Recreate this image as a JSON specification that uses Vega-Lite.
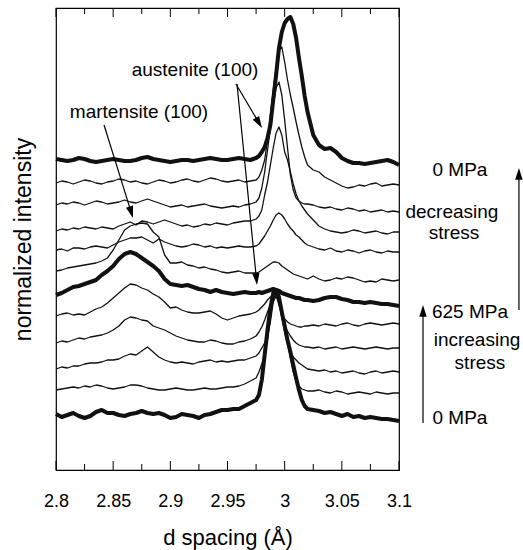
{
  "$schema": "https://vega.github.io/schema/vega-lite/v6.json",
  "width": 343,
  "height": 462,
  "autosize": {"type": "none"},
  "padding": {"left": 56, "top": 8, "right": 124, "bottom": 80},
  "background": "white",
  "config": {"view": {"stroke": "black", "strokeWidth": 1.2}, "font": "Liberation Sans"},
  "datasets": {
    "spectra": [
      {"d":2.8,"t1":86,"t2":110,"t3":131,"t4":157,"t5":184,"t6":205,"t7":229,"t8":250,"t9":269,"t10":295,"t11":317,"t12":341},
      {"d":2.805,"t1":83,"t2":111,"t3":133,"t4":159,"t5":186,"t6":207,"t7":230,"t8":251,"t9":271,"t10":297,"t11":319,"t12":340},
      {"d":2.81,"t1":85,"t2":112,"t3":132,"t4":158,"t5":187,"t6":210,"t7":232,"t8":249,"t9":270,"t10":296,"t11":318,"t12":339},
      {"d":2.815,"t1":87,"t2":113,"t3":134,"t4":160,"t5":185,"t6":213,"t7":233,"t8":252,"t9":272,"t10":298,"t11":316,"t12":340},
      {"d":2.82,"t1":84,"t2":112,"t3":134,"t4":162,"t5":186,"t6":214,"t7":234,"t8":252,"t9":271,"t10":297,"t11":318,"t12":342},
      {"d":2.825,"t1":82,"t2":114,"t3":136,"t4":161,"t5":185,"t6":216,"t7":235,"t8":251,"t9":273,"t10":295,"t11":320,"t12":341},
      {"d":2.83,"t1":84,"t2":113,"t3":137,"t4":163,"t5":188,"t6":218,"t7":236,"t8":253,"t9":272,"t10":297,"t11":319,"t12":339},
      {"d":2.835,"t1":88,"t2":115,"t3":137,"t4":164,"t5":191,"t6":220,"t7":237,"t8":254,"t9":271,"t10":299,"t11":317,"t12":338},
      {"d":2.84,"t1":90,"t2":114,"t3":138,"t4":165,"t5":193,"t6":225,"t7":239,"t8":253,"t9":273,"t10":298,"t11":316,"t12":339},
      {"d":2.845,"t1":87,"t2":112,"t3":140,"t4":167,"t5":197,"t6":229,"t7":242,"t8":252,"t9":272,"t10":296,"t11":318,"t12":340},
      {"d":2.85,"t1":87,"t2":111,"t3":140,"t4":170,"t5":202,"t6":234,"t7":250,"t8":255,"t9":271,"t10":297,"t11":319,"t12":341},
      {"d":2.855,"t1":85,"t2":112,"t3":141,"t4":174,"t5":207,"t6":241,"t7":260,"t8":258,"t9":274,"t10":298,"t11":321,"t12":340},
      {"d":2.86,"t1":84,"t2":113,"t3":144,"t4":180,"t5":212,"t6":246,"t7":270,"t8":260,"t9":276,"t10":300,"t11":320,"t12":339},
      {"d":2.865,"t1":86,"t2":115,"t3":146,"t4":183,"t5":216,"t6":248,"t7":274,"t8":262,"t9":278,"t10":298,"t11":318,"t12":339},
      {"d":2.87,"t1":87,"t2":115,"t3":145,"t4":182,"t5":215,"t6":246,"t7":276,"t8":262,"t9":275,"t10":297,"t11":319,"t12":340},
      {"d":2.875,"t1":89,"t2":114,"t3":149,"t4":180,"t5":212,"t6":242,"t7":277,"t8":263,"t9":279,"t10":299,"t11":317,"t12":342},
      {"d":2.88,"t1":87,"t2":112,"t3":153,"t4":179,"t5":210,"t6":238,"t7":276,"t8":260,"t9":278,"t10":301,"t11":316,"t12":343},
      {"d":2.885,"t1":86,"t2":111,"t3":148,"t4":174,"t5":206,"t6":234,"t7":268,"t8":257,"t9":276,"t10":299,"t11":318,"t12":341},
      {"d":2.89,"t1":87,"t2":110,"t3":143,"t4":172,"t5":203,"t6":229,"t7":263,"t8":261,"t9":278,"t10":297,"t11":320,"t12":340},
      {"d":2.895,"t1":85,"t2":110,"t3":140,"t4":170,"t5":198,"t6":221,"t7":245,"t8":258,"t9":280,"t10":295,"t11":319,"t12":339},
      {"d":2.9,"t1":82,"t2":111,"t3":138,"t4":167,"t5":192,"t6":216,"t7":237,"t8":256,"t9":278,"t10":293,"t11":317,"t12":338},
      {"d":2.905,"t1":83,"t2":112,"t3":137,"t4":164,"t5":193,"t6":215,"t7":237,"t8":254,"t9":276,"t10":294,"t11":318,"t12":339},
      {"d":2.91,"t1":86,"t2":111,"t3":138,"t4":162,"t5":190,"t6":214,"t7":238,"t8":253,"t9":274,"t10":295,"t11":320,"t12":340},
      {"d":2.915,"t1":85,"t2":110,"t3":137,"t4":160,"t5":188,"t6":215,"t7":235,"t8":254,"t9":275,"t10":293,"t11":321,"t12":340},
      {"d":2.92,"t1":84,"t2":110,"t3":136,"t4":159,"t5":187,"t6":213,"t7":234,"t8":256,"t9":273,"t10":294,"t11":319,"t12":339},
      {"d":2.925,"t1":82,"t2":111,"t3":138,"t4":158,"t5":187,"t6":211,"t7":232,"t8":255,"t9":274,"t10":295,"t11":318,"t12":340},
      {"d":2.93,"t1":85,"t2":112,"t3":139,"t4":158,"t5":188,"t6":210,"t7":233,"t8":253,"t9":276,"t10":296,"t11":320,"t12":341},
      {"d":2.935,"t1":86,"t2":111,"t3":140,"t4":160,"t5":189,"t6":208,"t7":231,"t8":254,"t9":275,"t10":294,"t11":322,"t12":342},
      {"d":2.94,"t1":88,"t2":111,"t3":138,"t4":159,"t5":186,"t6":210,"t7":230,"t8":252,"t9":277,"t10":293,"t11":321,"t12":341},
      {"d":2.945,"t1":90,"t2":112,"t3":139,"t4":157,"t5":182,"t6":208,"t7":228,"t8":253,"t9":276,"t10":292,"t11":319,"t12":340},
      {"d":2.95,"t1":90,"t2":113,"t3":138,"t4":156,"t5":180,"t6":207,"t7":227,"t8":252,"t9":275,"t10":293,"t11":318,"t12":340},
      {"d":2.955,"t1":91,"t2":113,"t3":139,"t4":156,"t5":182,"t6":206,"t7":228,"t8":253,"t9":277,"t10":294,"t11":319,"t12":341},
      {"d":2.96,"t1":91,"t2":114,"t3":140,"t4":158,"t5":184,"t6":207,"t7":229,"t8":254,"t9":278,"t10":293,"t11":320,"t12":342},
      {"d":2.965,"t1":94,"t2":116,"t3":140,"t4":159,"t5":185,"t6":208,"t7":227,"t8":253,"t9":279,"t10":295,"t11":318,"t12":341},
      {"d":2.97,"t1":97,"t2":119,"t3":142,"t4":161,"t5":186,"t6":207,"t7":227,"t8":253,"t9":279,"t10":296,"t11":319,"t12":340},
      {"d":2.975,"t1":100,"t2":122,"t3":144,"t4":164,"t5":188,"t6":207,"t7":227,"t8":254,"t9":281,"t10":298,"t11":320,"t12":342},
      {"d":2.9775,"t1":105,"t2":128,"t3":147,"t4":168,"t5":190,"t6":208,"t7":228,"t8":256,"t9":284,"t10":302,"t11":323,"t12":344},
      {"d":2.98,"t1":120,"t2":136,"t3":152,"t4":173,"t5":193,"t6":207,"t7":230,"t8":260,"t9":290,"t10":312,"t11":330,"t12":348},
      {"d":2.9825,"t1":145,"t2":145,"t3":157,"t4":180,"t5":196,"t6":208,"t7":232,"t8":264,"t9":305,"t10":328,"t11":340,"t12":353},
      {"d":2.985,"t1":170,"t2":160,"t3":164,"t4":188,"t5":200,"t6":209,"t7":234,"t8":269,"t9":318,"t10":350,"t11":360,"t12":362},
      {"d":2.9875,"t1":192,"t2":182,"t3":178,"t4":195,"t5":203,"t6":210,"t7":236,"t8":274,"t9":335,"t10":372,"t11":385,"t12":375},
      {"d":2.99,"t1":207,"t2":200,"t3":198,"t4":202,"t5":205,"t6":211,"t7":238,"t8":280,"t9":352,"t10":395,"t11":410,"t12":400},
      {"d":2.9925,"t1":210,"t2":206,"t3":204,"t4":204,"t5":205,"t6":210,"t7":238,"t8":285,"t9":367,"t10":412,"t11":432,"t12":425},
      {"d":2.995,"t1":203,"t2":202,"t3":200,"t4":198,"t5":195,"t6":209,"t7":237,"t8":287,"t9":373,"t10":418,"t11":450,"t12":452},
      {"d":2.9975,"t1":188,"t2":188,"t3":184,"t4":182,"t5":186,"t6":207,"t7":234,"t8":285,"t9":365,"t10":405,"t11":453,"t12":468},
      {"d":3.0,"t1":174,"t2":174,"t3":168,"t4":174,"t5":181,"t6":206,"t7":232,"t8":281,"t9":348,"t10":380,"t11":438,"t12":477},
      {"d":3.0025,"t1":160,"t2":158,"t3":156,"t4":169,"t5":178,"t6":205,"t7":230,"t8":276,"t9":340,"t10":352,"t11":420,"t12":481},
      {"d":3.005,"t1":148,"t2":142,"t3":147,"t4":164,"t5":176,"t6":204,"t7":228,"t8":272,"t9":328,"t10":325,"t11":405,"t12":483},
      {"d":3.0075,"t1":135,"t2":128,"t3":143,"t4":160,"t5":175,"t6":203,"t7":226,"t8":269,"t9":316,"t10":310,"t11":392,"t12":476},
      {"d":3.01,"t1":122,"t2":119,"t3":140,"t4":157,"t5":174,"t6":202,"t7":225,"t8":265,"t9":306,"t10":302,"t11":378,"t12":462},
      {"d":3.0125,"t1":110,"t2":114,"t3":137,"t4":155,"t5":173,"t6":202,"t7":224,"t8":263,"t9":299,"t10":299,"t11":365,"t12":442},
      {"d":3.015,"t1":100,"t2":111,"t3":135,"t4":154,"t5":173,"t6":201,"t7":223,"t8":260,"t9":294,"t10":297,"t11":353,"t12":424},
      {"d":3.0175,"t1":94,"t2":110,"t3":133,"t4":153,"t5":174,"t6":200,"t7":222,"t8":257,"t9":290,"t10":296,"t11":343,"t12":404},
      {"d":3.02,"t1":91,"t2":109,"t3":131,"t4":153,"t5":174,"t6":200,"t7":221,"t8":255,"t9":286,"t10":296,"t11":335,"t12":388},
      {"d":3.025,"t1":90,"t2":109,"t3":130,"t4":152,"t5":175,"t6":199,"t7":224,"t8":253,"t9":280,"t10":295,"t11":330,"t12":365},
      {"d":3.03,"t1":89,"t2":110,"t3":129,"t4":153,"t5":174,"t6":200,"t7":221,"t8":251,"t9":274,"t10":293,"t11":328,"t12":355},
      {"d":3.035,"t1":87,"t2":108,"t3":130,"t4":151,"t5":176,"t6":202,"t7":219,"t8":250,"t9":271,"t10":292,"t11":323,"t12":351},
      {"d":3.04,"t1":88,"t2":107,"t3":128,"t4":152,"t5":175,"t6":203,"t7":220,"t8":252,"t9":269,"t10":293,"t11":320,"t12":352},
      {"d":3.045,"t1":86,"t2":109,"t3":129,"t4":153,"t5":174,"t6":203,"t7":222,"t8":249,"t9":268,"t10":291,"t11":317,"t12":348},
      {"d":3.05,"t1":84,"t2":108,"t3":127,"t4":151,"t5":176,"t6":201,"t7":221,"t8":248,"t9":267,"t10":290,"t11":314,"t12":342},
      {"d":3.055,"t1":86,"t2":106,"t3":128,"t4":152,"t5":177,"t6":200,"t7":223,"t8":250,"t9":268,"t10":292,"t11":312,"t12":339},
      {"d":3.06,"t1":83,"t2":107,"t3":129,"t4":153,"t5":175,"t6":198,"t7":222,"t8":249,"t9":270,"t10":291,"t11":313,"t12":337},
      {"d":3.065,"t1":84,"t2":108,"t3":127,"t4":152,"t5":174,"t6":198,"t7":220,"t8":247,"t9":269,"t10":289,"t11":315,"t12":337},
      {"d":3.07,"t1":82,"t2":107,"t3":126,"t4":151,"t5":176,"t6":197,"t7":218,"t8":249,"t9":267,"t10":290,"t11":314,"t12":336},
      {"d":3.075,"t1":83,"t2":106,"t3":128,"t4":152,"t5":177,"t6":198,"t7":219,"t8":250,"t9":268,"t10":288,"t11":316,"t12":337},
      {"d":3.08,"t1":82,"t2":108,"t3":129,"t4":153,"t5":176,"t6":197,"t7":218,"t8":248,"t9":269,"t10":289,"t11":317,"t12":338},
      {"d":3.085,"t1":81,"t2":107,"t3":127,"t4":152,"t5":175,"t6":196,"t7":221,"t8":247,"t9":267,"t10":290,"t11":314,"t12":339},
      {"d":3.09,"t1":81,"t2":106,"t3":128,"t4":151,"t5":176,"t6":196,"t7":220,"t8":249,"t9":266,"t10":288,"t11":315,"t12":340},
      {"d":3.095,"t1":80,"t2":107,"t3":129,"t4":152,"t5":177,"t6":195,"t7":219,"t8":248,"t9":268,"t10":289,"t11":316,"t12":338},
      {"d":3.1,"t1":79,"t2":107,"t3":128,"t4":152,"t5":176,"t6":194,"t7":220,"t8":248,"t9":268,"t10":288,"t11":315,"t12":335}
    ],
    "ticks": [
      {"d":2.8,"kind":"major"},{"d":2.85,"kind":"major"},{"d":2.9,"kind":"major"},{"d":2.95,"kind":"major"},
      {"d":3.0,"kind":"major"},{"d":3.05,"kind":"major"},{"d":3.1,"kind":"major"},
      {"d":2.825,"kind":"minor"},{"d":2.875,"kind":"minor"},{"d":2.925,"kind":"minor"},
      {"d":2.975,"kind":"minor"},{"d":3.025,"kind":"minor"},{"d":3.075,"kind":"minor"}
    ],
    "arrows": [
      {"id":"a1","d1":2.9574,"v1":416,"d2":2.97684,"v2":378.4},
      {"id":"a2","d1":2.9583,"v1":416,"d2":2.97518,"v2":222.4},
      {"id":"a3","d1":2.842,"v1":375,"d2":2.86542,"v2":289.1},
      {"id":"a4","d1":3.121,"v1":77,"d2":3.121,"v2":187.6},
      {"id":"a5","d1":3.2049,"v1":190,"d2":3.2049,"v2":324.6}
    ],
    "labels": [
      {"d":2.9216,"v":430,"text":"austenite (100)"},
      {"d":2.8726,"v":388,"text":"martensite (100)"},
      {"d":3.1533,"v":330,"text":"0 MPa"},
      {"d":3.1463,"v":288,"text":"decreasing"},
      {"d":3.1481,"v":267,"text":"stress"},
      {"d":3.1621,"v":188,"text":"625 MPa"},
      {"d":3.1682,"v":160,"text":"increasing"},
      {"d":3.1708,"v":137,"text":"stress"},
      {"d":3.1533,"v":82,"text":"0 MPa"}
    ]
  },
  "layer": [
    {
      "data": {"name": "spectra"},
      "transform": [
        {"fold": ["t1","t2","t3","t4","t5","t6","t7","t8","t9","t10","t11","t12"], "as": ["trace","v"]},
        {"filter": {"not": {"field": "trace", "oneOf": ["t1","t6","t12"]}}}
      ],
      "mark": {"type": "line", "color": "#111", "strokeWidth": 1.3, "strokeJoin": "round"},
      "encoding": {
        "x": {"field": "d", "type": "quantitative", "title": "d spacing (Å)",
              "scale": {"domain": [2.8, 3.1], "nice": false, "zero": false},
              "axis": {"values": [2.8,2.85,2.9,2.95,3,3.05,3.1], "format": "~g", "ticks": false, "domain": false, "grid": false,
                       "labelFontSize": 18, "labelColor": "black", "labelPadding": 22, "labelFlush": false,
                       "titleFontSize": 22, "titleFontWeight": "normal", "titleColor": "black", "titlePadding": 17}},
        "y": {"field": "v", "type": "quantitative", "title": "normalized intensity",
              "scale": {"domain": [30, 492], "nice": false, "zero": false},
              "axis": {"labels": false, "ticks": false, "domain": false, "grid": false,
                       "titleFontSize": 23, "titleFontWeight": "normal", "titleColor": "black", "titlePadding": 21}},
        "detail": {"field": "trace"}
      }
    },
    {
      "data": {"name": "spectra"},
      "transform": [
        {"fold": ["t1","t6","t12"], "as": ["trace","v"]}
      ],
      "mark": {"type": "line", "color": "#111", "strokeWidth": 4, "strokeJoin": "round"},
      "encoding": {
        "x": {"field": "d", "type": "quantitative", "title": "d spacing (Å)"},
        "y": {"field": "v", "type": "quantitative", "title": "normalized intensity"},
        "detail": {"field": "trace"}
      }
    },
    {
      "data": {"name": "ticks"},
      "transform": [{"filter": "datum.kind == 'major'"}],
      "mark": {"type": "rule", "color": "black", "strokeWidth": 1},
      "encoding": {"x": {"field": "d", "type": "quantitative", "title": "d spacing (Å)"}, "y": {"datum": 30, "title": "normalized intensity"}, "y2": {"datum": 39}}
    },
    {
      "data": {"name": "ticks"},
      "transform": [{"filter": "datum.kind == 'minor'"}],
      "mark": {"type": "rule", "color": "black", "strokeWidth": 1},
      "encoding": {"x": {"field": "d", "type": "quantitative", "title": "d spacing (Å)"}, "y": {"datum": 30, "title": "normalized intensity"}, "y2": {"datum": 36}}
    },
    {
      "data": {"name": "ticks"},
      "transform": [{"filter": "datum.kind == 'major'"}],
      "mark": {"type": "rule", "color": "black", "strokeWidth": 1},
      "encoding": {"x": {"field": "d", "type": "quantitative", "title": "d spacing (Å)"}, "y": {"datum": 492, "title": "normalized intensity"}, "y2": {"datum": 483}}
    },
    {
      "data": {"name": "ticks"},
      "transform": [{"filter": "datum.kind == 'minor'"}],
      "mark": {"type": "rule", "color": "black", "strokeWidth": 1},
      "encoding": {"x": {"field": "d", "type": "quantitative", "title": "d spacing (Å)"}, "y": {"datum": 492, "title": "normalized intensity"}, "y2": {"datum": 486}}
    },
    {
      "data": {"name": "arrows"},
      "mark": {"type": "rule", "color": "black", "strokeWidth": 1.2},
      "encoding": {
        "x": {"field": "d1", "type": "quantitative", "title": "d spacing (Å)"},
        "y": {"field": "v1", "type": "quantitative", "title": "normalized intensity"},
        "x2": {"field": "d2"},
        "y2": {"field": "v2"}
      }
    },
    {
      "data": {"name": "arrows"},
      "transform": [{"filter": "datum.id == 'a1'"}],
      "mark": {"type": "point", "shape": "M0,-1L0.5,0.6L-0.5,0.6Z", "filled": true, "color": "black", "opacity": 1, "size": 220, "angle": 149.4},
      "encoding": {"x": {"field": "d2", "type": "quantitative", "title": "d spacing (Å)"}, "y": {"field": "v2", "type": "quantitative", "title": "normalized intensity"}}
    },
    {
      "data": {"name": "arrows"},
      "transform": [{"filter": "datum.id == 'a2'"}],
      "mark": {"type": "point", "shape": "M0,-1L0.5,0.6L-0.5,0.6Z", "filled": true, "color": "black", "opacity": 1, "size": 220, "angle": 174.3},
      "encoding": {"x": {"field": "d2", "type": "quantitative", "title": "d spacing (Å)"}, "y": {"field": "v2", "type": "quantitative", "title": "normalized intensity"}}
    },
    {
      "data": {"name": "arrows"},
      "transform": [{"filter": "datum.id == 'a3'"}],
      "mark": {"type": "point", "shape": "M0,-1L0.5,0.6L-0.5,0.6Z", "filled": true, "color": "black", "opacity": 1, "size": 220, "angle": 162.7},
      "encoding": {"x": {"field": "d2", "type": "quantitative", "title": "d spacing (Å)"}, "y": {"field": "v2", "type": "quantitative", "title": "normalized intensity"}}
    },
    {
      "data": {"name": "arrows"},
      "transform": [{"filter": "datum.id == 'a4' || datum.id == 'a5'"}],
      "mark": {"type": "point", "shape": "M0,-1L0.5,0.6L-0.5,0.6Z", "filled": true, "color": "black", "opacity": 1, "size": 220, "angle": 0},
      "encoding": {"x": {"field": "d2", "type": "quantitative", "title": "d spacing (Å)"}, "y": {"field": "v2", "type": "quantitative", "title": "normalized intensity"}}
    },
    {
      "data": {"name": "labels"},
      "mark": {"type": "text", "fontSize": 19, "align": "center", "baseline": "middle", "color": "black", "font": "Liberation Sans"},
      "encoding": {
        "x": {"field": "d", "type": "quantitative", "title": "d spacing (Å)"},
        "y": {"field": "v", "type": "quantitative", "title": "normalized intensity"},
        "text": {"field": "text"}
      }
    }
  ]
}
